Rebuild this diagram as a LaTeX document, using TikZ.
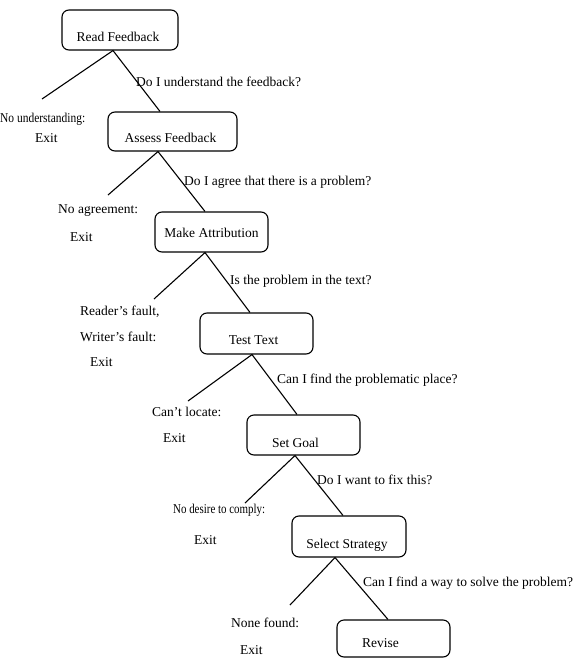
\documentclass[tikz,border=0pt]{standalone}
\usepackage{fontspec}
\setmainfont{Liberation Serif}
\newcommand{\lblfont}{\fontsize{13.5}{15}\selectfont}
\begin{document}
\begin{tikzpicture}[x=1pt,y=-1pt,
  box/.style={draw,line width=1.1pt,rounded corners=7pt,inner sep=0pt,minimum width=#1,minimum height=40pt},
  box/.default=114pt,
  conn/.style={line width=1.1pt},
  lbl/.style={anchor=west,inner sep=0pt,font=\lblfont},
  bl/.style={font=\lblfont,inner sep=0pt}]
\useasboundingbox (0,0) rectangle (582,659);
% boxes
\node[box=116pt,label={[bl,yshift=-7pt,xshift=-2pt]center:Read Feedback}] (rf) at (120,30) {};
\node[box=129pt,minimum height=39pt,label={[bl,yshift=-6.5pt,xshift=-2pt]center:Assess Feedback}] (af) at (172.5,131.5) {};
\node[box=113pt,label={[bl,yshift=-1pt]center:Make Attribution}] (ma) at (211.5,232) {};
\node[box=113pt,minimum height=41pt,label={[bl,yshift=-6.5pt,xshift=-3pt]center:Test Text}] (tt) at (256.5,333.5) {};
\node[box=113pt,label={[bl,yshift=-8pt,xshift=-8pt]center:Set Goal}] (sg) at (303.5,435) {};
\node[box=114pt,minimum height=41pt,label={[bl,yshift=-8.5pt,xshift=-2pt]center:Select Strategy}] (ss) at (349,536.5) {};
\node[box=113pt,minimum height=37pt,label={[bl,yshift=-4.5pt,xshift=-13pt]center:Revise}] (rv) at (393.5,638.5) {};
% free ends
\coordinate (e1) at (42,99);
\coordinate (e2) at (108,195);
\coordinate (e3) at (154,299);
\coordinate (e4) at (188,401);
\coordinate (e5) at (245,503);
\coordinate (e6) at (290,605);
% connectors
\draw[conn] (e1) -- ([xshift=-7pt]rf.south) -- ([xshift=-12.5pt]af.north);
\draw[conn] (e2) -- ([xshift=-14.5pt]af.south) -- ([xshift=-6.5pt]ma.north);
\draw[conn] (e3) -- ([xshift=-6.5pt]ma.south) -- ([xshift=-6.5pt]tt.north);
\draw[conn] (e4) -- ([xshift=-4.5pt]tt.south) -- ([xshift=-6.5pt]sg.north);
\draw[conn] (e5) -- ([xshift=-8.5pt]sg.south) -- ([xshift=-6pt]ss.north);
\draw[conn] (e6) -- ([xshift=-14pt]ss.south) -- ([xshift=-5.5pt]rv.north);
% labels
\node[lbl] (q1) at (136,82) {Do I understand the feedback?};
\node[lbl,xscale=0.85,transform shape] (n1) at (0,119) {No understanding:};
\node[lbl] (x1) at (35,138) {Exit};
\node[lbl] (q2) at (184,182) {Do I agree that there is a problem?};
\node[lbl] (n2) at (58,211) {No agreement:};
\node[lbl] (x2) at (70,237) {Exit};
\node[lbl] (q3) at (230,281) {Is the problem in the text?};
\node[lbl] (n3a) at (80,312) {Reader's fault,};
\node[lbl] (n3b) at (80,337) {Writer's fault:};
\node[lbl] (x3) at (90,362) {Exit};
\node[lbl] (q4) at (277,380) {Can I find the problematic place?};
\node[lbl] (n4) at (152,412) {Can't locate:};
\node[lbl] (x4) at (163,438) {Exit};
\node[lbl] (q5) at (317,480) {Do I want to fix this?};
\node[lbl,xscale=0.81,transform shape] (n5) at (173,510) {No desire to comply:};
\node[lbl] (x5) at (194,540) {Exit};
\node[lbl] (q6) at (363,583) {Can I find a way to solve the problem?};
\node[lbl] (n6) at (231,623) {None found:};
\node[lbl] (x6) at (240,650) {Exit};
\end{tikzpicture}
\end{document}
